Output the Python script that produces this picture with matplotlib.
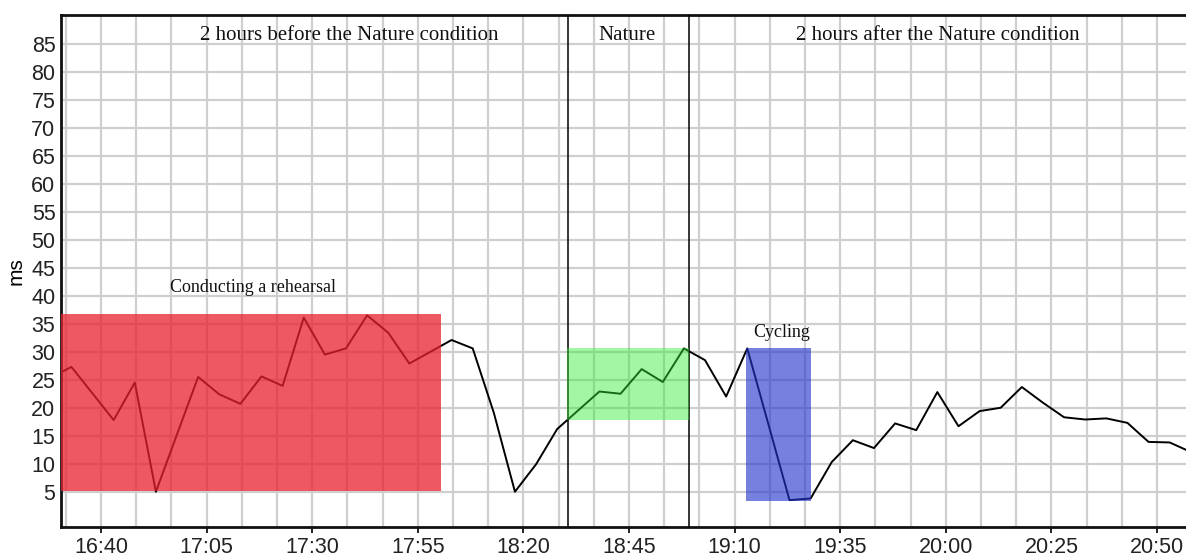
import matplotlib
matplotlib.use('Agg')
from matplotlib import pyplot as plt
from matplotlib.patches import Rectangle
import numpy as np

# measurement times (HH:MM) and values in ms
times = ['16:28', '16:33', '16:43', '16:48', '16:53', '17:03', '17:08', '17:13',
         '17:18', '17:23', '17:28', '17:33', '17:38', '17:43', '17:48', '17:53',
         '18:03', '18:08', '18:13', '18:18', '18:23', '18:28', '18:38', '18:43',
         '18:48', '18:53', '18:58', '19:03', '19:08', '19:13', '19:23', '19:28',
         '19:33', '19:38', '19:43', '19:48', '19:53', '19:58', '20:03', '20:08',
         '20:13', '20:18', '20:23', '20:28', '20:33', '20:38', '20:43', '20:48',
         '20:53', '20:58']
values = [25.4, 27.4, 17.9, 24.6, 5.1, 25.6, 22.5, 20.8,
          25.7, 24.0, 36.2, 29.6, 30.7, 36.6, 33.5, 28.0,
          32.2, 30.7, 19.2, 5.1, 10.0, 16.3, 23.0, 22.6,
          27.0, 24.7, 30.7, 28.6, 22.1, 30.7, 3.6, 3.9,
          10.4, 14.3, 12.9, 17.3, 16.1, 22.9, 16.8, 19.5,
          20.1, 23.8, 21.0, 18.4, 18.0, 18.2, 17.4, 14.0,
          13.9, 12.2]

tick_labels = ['16:40', '17:05', '17:30', '17:55', '18:20', '18:45',
               '19:10', '19:35', '20:00', '20:25', '20:50']
y_ticks = list(range(5, 90, 5))

# phases: (start, end, low, high)
rehearsal = ('16:30:30', '18:00:36', 5.2, 36.8)
nature = ('18:30:24', '18:59:06', 18.0, 30.7)
cycling = ('19:12:48', '19:28:12', 3.45, 30.7)
dividers = ['18:30:30', '18:59:18']


def to_min(s):
    parts = [float(p) for p in s.split(':')]
    m = parts[0] * 60 + parts[1]
    if len(parts) > 2:
        m += parts[2] / 60
    return m


x = np.array([to_min(t) for t in times])
x0, x1 = to_min('16:30:32'), to_min('20:56:52')

fig = plt.figure(figsize=(11.86, 5.56), dpi=100)
ax = fig.add_axes([61 / 1186, 1 - 527 / 556, 1 - 61 / 1186, (527 - 15) / 556])

# grid
first = to_min('16:40') - 25 / 3
for g in np.arange(first, x1, 25 / 3):
    ax.axvline(g, color='#cfcfcf', lw=1.6, zorder=0)
for v in y_ticks:
    ax.axhline(v, color='#cfcfcf', lw=1.6, zorder=0)

ax.plot(x, values, color='black', lw=1.4, zorder=2)

for xv in dividers:
    ax.axvline(to_min(xv), color='black', lw=1.1, zorder=3)

for (s, e, lo, hi), c, a in [(rehearsal, '#E8202E', 0.75),
                             (nature, '#33EE33', 0.45),
                             (cycling, '#2233CC', 0.62)]:
    ax.add_patch(Rectangle((to_min(s), lo), to_min(e) - to_min(s), hi - lo,
                           facecolor=c, alpha=a, edgecolor='none', zorder=4))

serif = 'Liberation Serif'
ax.text(to_min('17:38:40'), 86.6, '2 hours before the Nature condition',
        family=serif, fontsize=15, ha='center', va='center', color='#111111')
ax.text(to_min('18:44:30'), 86.6, 'Nature', family=serif, fontsize=15,
        ha='center', va='center', color='#111111')
ax.text(to_min('19:58:10'), 86.6, '2 hours after the Nature condition',
        family=serif, fontsize=15, ha='center', va='center', color='#111111')
ax.text(to_min('17:16'), 41.5, 'Conducting a rehearsal', family=serif,
        fontsize=13, ha='center', va='center', color='#111111')
ax.text(to_min('19:21:10'), 33.6, 'Cycling', family=serif, fontsize=13,
        ha='center', va='center', color='#111111')

ax.set_xlim(x0, x1)
ax.set_ylim(-1.2, 90.25)
ax.set_xticks([to_min(t) for t in tick_labels])
ax.set_xticklabels(tick_labels)
ax.set_yticks(y_ticks)
ax.tick_params(axis='x', length=4, width=1.2, pad=3, labelsize=15.5,
               labelcolor='#222222')
ax.tick_params(axis='y', length=0, pad=4, labelsize=15.5, labelcolor='#222222')
for lab in ax.get_xticklabels() + ax.get_yticklabels():
    lab.set_family('Liberation Sans')
ax.set_ylabel('ms', family='Liberation Sans', fontsize=15, labelpad=4)

ax.spines['right'].set_visible(False)
for sp in ['left', 'bottom', 'top']:
    ax.spines[sp].set_linewidth(2)
    ax.spines[sp].set_color('#111111')

fig.savefig('out.png', dpi=100)
